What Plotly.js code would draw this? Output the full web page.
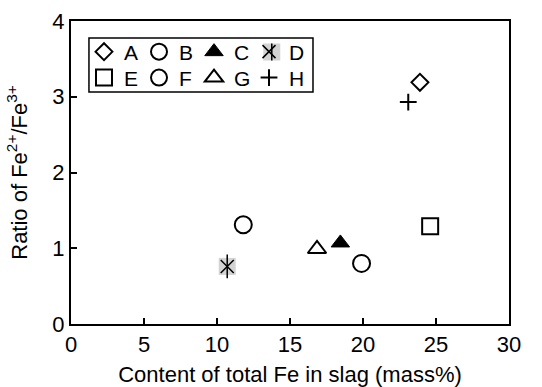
<!DOCTYPE html>
<html>
<head>
<meta charset="utf-8">
<script src="https://cdn.plot.ly/plotly-3.0.1.min.js"></script>
<style>html,body{margin:0;padding:0;background:#fff;}#chart{width:542px;height:387px;}</style>
</head>
<body>
<div id="chart"></div>
<script>
// Data
var names = ["A", "B", "C", "D", "E", "F", "G", "H"];
var feTotal = [23.9, 11.8, 18.45, 10.7, 24.6, 19.9, 16.85, 23.1];   // Content of total Fe in slag (mass%)
var feRatio = [3.19, 1.31, 1.07, 0.76, 1.29, 0.80, 0.99, 2.93];     // Fe2+/Fe3+
var xTicks = [0, 5, 10, 15, 20, 25, 30];
var yTicks = [0, 1, 2, 3, 4];

var symbols = {
  A: {symbol: "diamond-open", size: 13, color: "#000", lw: 2},
  B: {symbol: "circle-open", size: 17, color: "#000", lw: 2},
  C: {symbol: "triangle-up", size: 16, color: "#000", lw: 1},
  D: {symbol: "x-thin-open", size: 13, color: "#000", lw: 1.5},
  E: {symbol: "square-open", size: 16, color: "#000", lw: 2},
  F: {symbol: "circle-open", size: 17, color: "#000", lw: 2},
  G: {symbol: "triangle-up-open", size: 16, color: "#000", lw: 2},
  H: {symbol: "cross-thin-open", size: 12, color: "#000", lw: 2}
};

var traces = [];
var iD = names.indexOf("D");
// gray background of D
traces.push({
  x: [feTotal[iD]], y: [feRatio[iD]], type: "scatter", mode: "markers",
  showlegend: false, hoverinfo: "skip",
  marker: {symbol: "square", size: 17, color: "#d3d3d3", line: {width: 0}}
});
names.forEach(function (n, i) {
  var s = symbols[n];
  traces.push({
    x: [feTotal[i]], y: [feRatio[i]], type: "scatter", mode: "markers",
    name: n,
    legend: i < 4 ? "legend" : "legend2",
    marker: {symbol: s.symbol, size: s.size, color: s.color, line: {color: "#000", width: s.lw}}
  });
});
// vertical stroke of D's asterisk
traces.push({
  x: [feTotal[iD]], y: [feRatio[iD]], type: "scatter", mode: "markers",
  showlegend: false, hoverinfo: "skip",
  marker: {symbol: "line-ns-open", size: 17, color: "#000", line: {color: "#000", width: 1.5}}
});

var FAM = "Liberation Sans, Arial, sans-serif";
var font = {family: FAM, size: 22, color: "#000"};
var axisCommon = {
  showgrid: false, zeroline: false, showline: true, linecolor: "#000", linewidth: 2,
  mirror: true, ticks: "inside", ticklen: 6, tickwidth: 2, tickcolor: "#000",
  tickfont: {family: FAM, size: 22, color: "#000"}, tickmode: "array"
};

// legend rows and D symbol decoration (paper coords)
var row1Y = 0.8977, row2Y = 0.812;
var dX = 0.4584, dY = row1Y, hx = 8.5 / 438, hy = 8.5 / 303;

var layout = {
  width: 542, height: 387,
  margin: {l: 71, r: 33, t: 21, b: 63},
  paper_bgcolor: "#fff", plot_bgcolor: "#fff",
  font: font,
  showlegend: true,
  xaxis: Object.assign({}, axisCommon, {
    range: [0, 30], tickvals: xTicks, ticktext: xTicks.map(String),
    title: {text: "Content of total Fe in slag (mass%)", font: {family: FAM, size: 22}, standoff: 12}
  }),
  yaxis: Object.assign({}, axisCommon, {
    range: [0, 4], tickvals: yTicks, ticktext: yTicks.map(String),
    title: {text: "Ratio of Fe<sup>2+</sup>/Fe<sup>3+</sup>", font: {family: FAM, size: 22}, standoff: 19}
  }),
  legend: {
    orientation: "h", x: 0.0297, y: row1Y, xanchor: "left", yanchor: "middle",
    bgcolor: "rgba(0,0,0,0)", borderwidth: 0, font: {family: FAM, size: 21, color: "#000"},
    itemwidth: 30, entrywidth: 10, tracegroupgap: 0
  },
  legend2: {
    orientation: "h", x: 0.0297, y: row2Y, xanchor: "left", yanchor: "middle",
    bgcolor: "rgba(0,0,0,0)", borderwidth: 0, font: {family: FAM, size: 21, color: "#000"},
    itemwidth: 30, entrywidth: 10, tracegroupgap: 0
  },
  shapes: [
    {type: "rect", xref: "paper", yref: "paper", x0: 0.041, x1: 0.5525, y0: 0.7657, y1: 0.944,
     line: {color: "#000", width: 1.5}, fillcolor: "rgba(0,0,0,0)", layer: "above"},
    {type: "rect", xref: "paper", yref: "paper", x0: dX - hx, x1: dX + hx, y0: dY - hy, y1: dY + hy,
     line: {width: 0}, fillcolor: "#d3d3d3", layer: "above"},
    {type: "line", xref: "paper", yref: "paper", x0: dX, x1: dX, y0: dY - hy, y1: dY + hy,
     line: {color: "#000", width: 1.5}, layer: "above"}
  ]
};

Plotly.newPlot("chart", traces, layout, {displayModeBar: false, staticPlot: true});
</script>
</body>
</html>
